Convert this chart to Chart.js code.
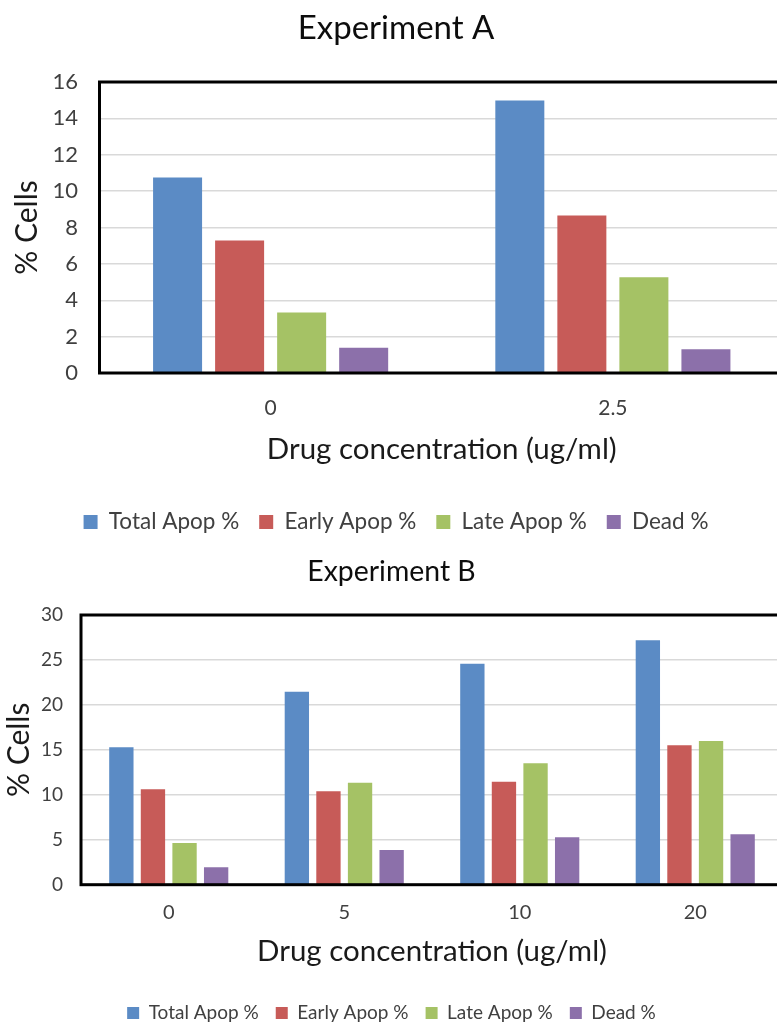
<!DOCTYPE html>
<html>
<head>
<meta charset="utf-8">
<script src="https://cdn.jsdelivr.net/npm/chart.js@4.4.1/dist/chart.umd.min.js"></script>
<style>
  html, body { margin: 0; padding: 0; background: #fff; overflow: hidden; }
  #wrap { width: 777px; height: 1024px; overflow: hidden; position: relative; }
  .box { position: absolute; left: 0; width: 800px; }
  #boxA { top: 0; height: 545px; }
  #boxB { top: 545px; height: 490px; }
  canvas { display: block; }
</style>
</head>
<body>
<div id="wrap">
  <div class="box" id="boxA"><canvas id="chartA" width="800" height="545"></canvas></div>
  <div class="box" id="boxB"><canvas id="chartB" width="800" height="490"></canvas></div>
</div>
<script>
// Series shared by both experiments
const seriesNames = ['Total Apop %', 'Early Apop %', 'Late Apop %', 'Dead %'];
const seriesColors = ['#5B8BC5', '#C75B58', '#A5C265', '#8C70AA'];

// Experiment A
const concA = ['0', '2.5'];
const totalA = [10.75, 14.98];
const earlyA = [7.29, 8.66];
const lateA  = [3.33, 5.26];
const deadA  = [1.39, 1.30];

// Experiment B
const concB = ['0', '5', '10', '20'];
const totalB = [15.28, 21.47, 24.58, 27.18];
const earlyB = [10.61, 10.39, 11.46, 15.50];
const lateB  = [4.64, 11.35, 13.50, 15.98];
const deadB  = [1.94, 3.86, 5.27, 5.60];

const FONT = 'Lato, "Noto Sans", sans-serif';

// Heavy black frame around the plotting area
const plotFrame = {
  id: 'plotFrame',
  afterDatasetsDraw(chart) {
    const { ctx, chartArea: a } = chart;
    ctx.save();
    ctx.strokeStyle = '#000';
    ctx.lineWidth = 3;
    ctx.strokeRect(a.left, a.top, a.right - a.left, a.bottom - a.top);
    ctx.restore();
  }
};

function buildChart(id, labels, series, o) {
  return new Chart(document.getElementById(id), {
    type: 'bar',
    data: {
      labels: labels,
      datasets: series.map((vals, i) => ({
        label: seriesNames[i],
        data: vals,
        backgroundColor: seriesColors[i],
        borderWidth: 0,
        categoryPercentage: o.catPct,
        barPercentage: o.barPct
      }))
    },
    options: {
      responsive: false,
      animation: false,
      layout: { padding: { left: o.padLeft, right: o.padRight, top: 0, bottom: o.padBottom } },
      plugins: {
        title: {
          display: true, text: o.title, color: '#0d0d0d',
          font: { family: FONT, size: o.titleSize, weight: 'normal' },
          padding: { top: o.titlePadTop, bottom: o.titlePadBottom }
        },
        legend: {
          position: 'bottom',
          labels: {
            boxWidth: o.boxSize, boxHeight: o.boxSize, padding: o.legendPad,
            color: '#404040', font: { family: FONT, size: o.legendSize }
          }
        },
        tooltip: { enabled: false }
      },
      scales: {
        x: {
          grid: { display: false, drawTicks: false },
          border: { display: false },
          ticks: { color: '#404040', padding: o.xTickPad, font: { family: FONT, size: o.xTickSize } },
          title: {
            display: true, text: 'Drug concentration (ug/ml)', color: '#1a1a1a',
            font: { family: FONT, size: o.xTitleSize },
            padding: { top: 0, bottom: o.xTitlePadBottom }
          },
          afterFit(s) { s.height = o.xHeight; }
        },
        y: {
          min: 0, max: o.yMax,
          ticks: { stepSize: o.yStep, color: '#404040', padding: o.yTickPad, font: { family: FONT, size: o.yTickSize } },
          grid: { color: '#d9d9d9', lineWidth: 1.5, drawTicks: false },
          border: { display: false },
          title: {
            display: true, text: '% Cells', color: '#1a1a1a',
            font: { family: FONT, size: o.yTitleSize },
            padding: { top: o.yTitlePadTop, bottom: 0 }
          },
          afterFit(s) { s.width = o.yWidth; }
        }
      }
    },
    plugins: [plotFrame]
  });
}

buildChart('chartA', concA, [totalA, earlyA, lateA, deadA], {
  title: 'Experiment A', titleSize: 33, titlePadTop: 8.2, titlePadBottom: 34.2,
  padLeft: 8, padRight: 16, padBottom: 1.75,
  catPct: 0.725, barPct: 0.79,
  boxSize: 14, legendPad: 20, legendSize: 22.5,
  xTickPad: 22.4, xTickSize: 21, xTitleSize: 29.5, xTitlePadBottom: 24.05, xHeight: 117.75,
  yMax: 16, yStep: 2, yTickPad: 21.5, yTickSize: 22, yTitleSize: 30, yTitlePadTop: 1, yWidth: 91.5
});

buildChart('chartB', concB, [totalB, earlyB, lateB, deadB], {
  title: 'Experiment B', titleSize: 28.4, titlePadTop: 9.96, titlePadBottom: 25.96,
  padLeft: 0, padRight: 17, padBottom: 2.5,
  catPct: 0.72, barPct: 0.77,
  boxSize: 12, legendPad: 17, legendSize: 19,
  xTickPad: 16.3, xTickSize: 20, xTitleSize: 29.5, xTitlePadBottom: 17.8, xHeight: 101.8,
  yMax: 30, yStep: 5, yTickPad: 18, yTickSize: 19, yTitleSize: 30, yTitlePadTop: 1, yWidth: 81
});
</script>
</body>
</html>
